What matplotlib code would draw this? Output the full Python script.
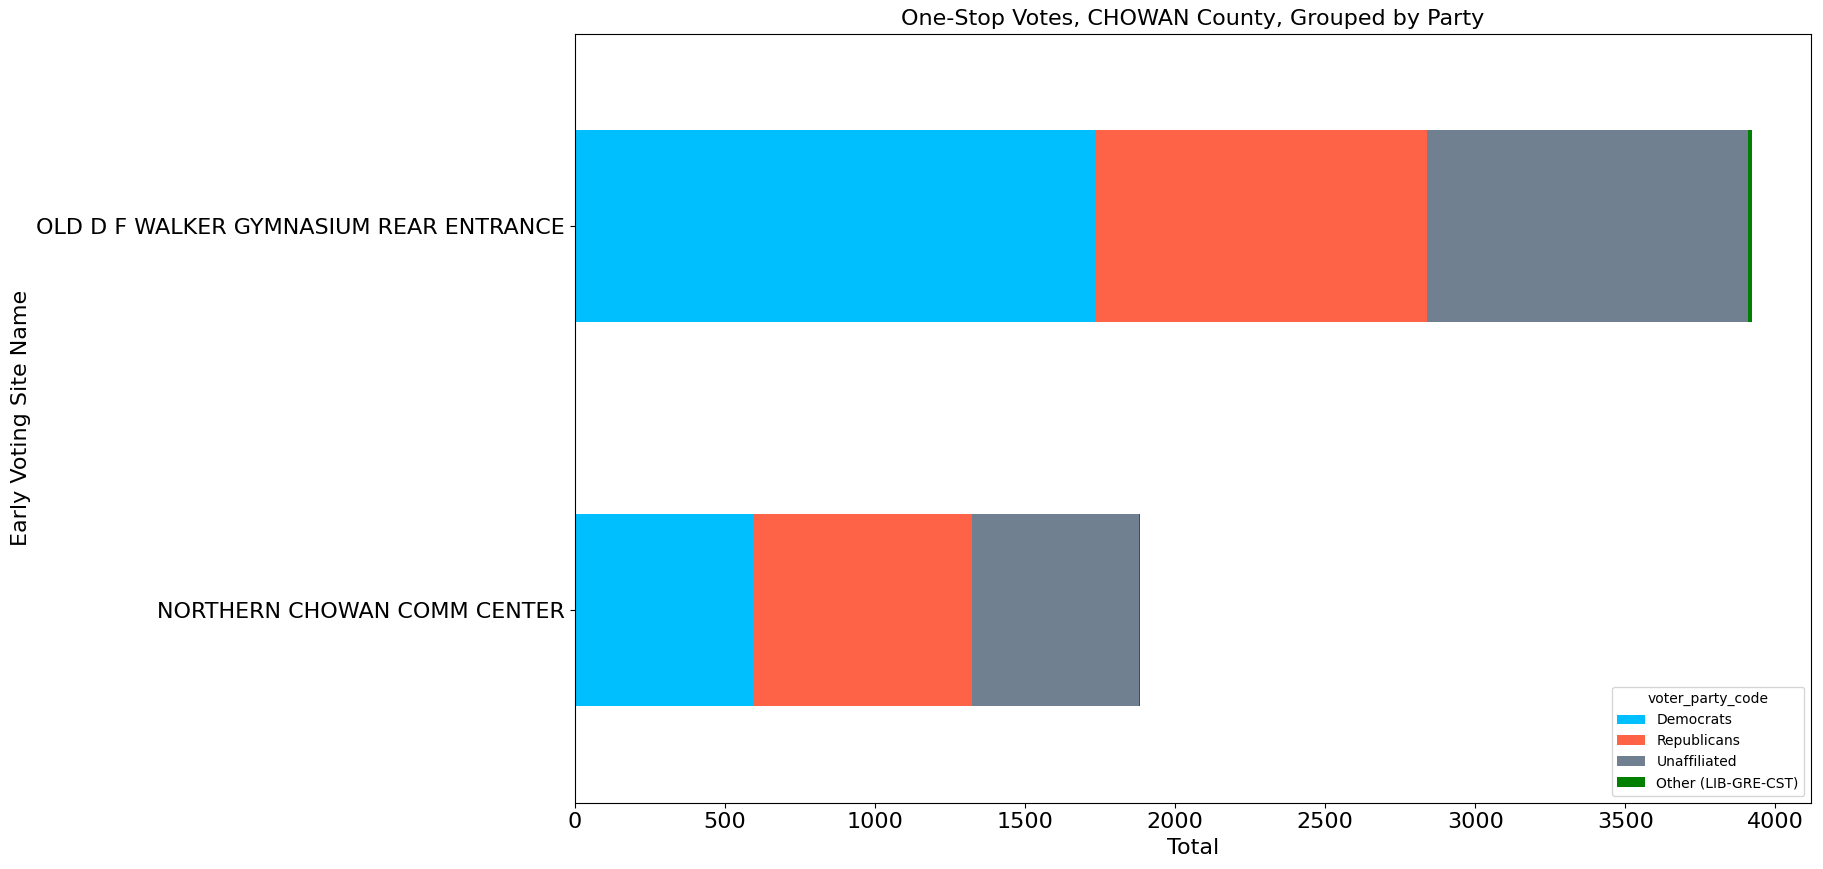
import matplotlib
matplotlib.use("Agg")
import matplotlib.pyplot as plt
import numpy as np

sites = ["NORTHERN CHOWAN COMM CENTER", "OLD D F WALKER GYMNASIUM REAR ENTRANCE"]
democrats = [595, 1733]
republicans = [729, 1105]
unaffiliated = [555, 1072]
other = [4, 13]
parties = ["Democrats", "Republicans", "Unaffiliated", "Other (LIB-GRE-CST)"]
colors = ["deepskyblue", "tomato", "slategray", "green"]

fig = plt.figure(figsize=(18.24, 8.69), dpi=100)
ax = fig.add_axes([0.315, 0.0764, 0.678, 0.885])
y = np.arange(len(sites))
left = np.zeros(len(sites))
for name, vals, c in zip(parties, [democrats, republicans, unaffiliated, other], colors):
    ax.barh(y, vals, height=0.5, left=left, color=c, label=name)
    left += np.array(vals)
ax.set_ylim(-0.5, len(sites) - 0.5)
ax.set_yticks(y)
ax.set_yticklabels(sites, fontsize=16)
ax.tick_params(axis="x", labelsize=16)
ax.set_xlabel("Total", fontsize=16)
ax.set_ylabel("Early Voting Site Name", fontsize=16)
ax.set_title("One-Stop Votes, CHOWAN County, Grouped by Party", fontsize=16)
ax.legend(title="voter_party_code", loc="lower right")
fig.savefig("out.png", dpi=100)
